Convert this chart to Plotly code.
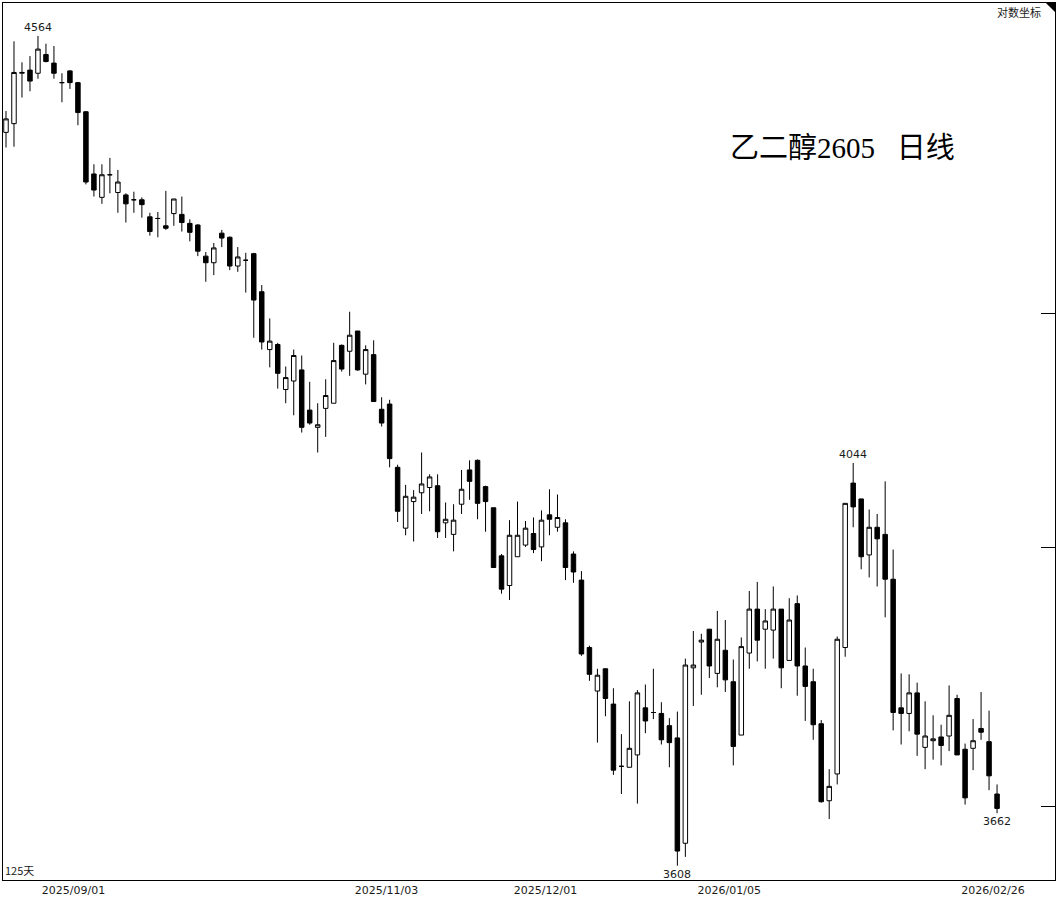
import numpy as np
import plotly.graph_objects as go

# ---- data (乙二醇2605 daily, 125 trading days) ----
OPEN = [4441, 4452, 4516, 4520, 4516, 4540, 4529, 4504, 4519, 4504,
        4467, 4389, 4360, 4388, 4366, 4363, 4357, 4357, 4336, 4334,
        4325, 4340, 4339, 4328, 4326, 4288, 4280, 4316, 4311, 4276,
        4283, 4291, 4245, 4176, 4182, 4129, 4139, 4152, 4105, 4085,
        4107, 4113, 4181, 4174, 4198, 4147, 4170, 4106, 4112, 4039,
        3970, 4000, 4010, 4016, 4018, 3976, 3963, 3997, 4036, 4047,
        4017, 3993, 3939, 3906, 3938, 3951, 3964, 3949, 3985, 3971,
        3976, 3941, 3912, 3838, 3791, 3815, 3777, 3711, 3710, 3723,
        3773, 3768, 3767, 3754, 3741, 3631, 3816, 3844, 3858, 3810,
        3835, 3801, 3744, 3832, 3880, 3858, 3857, 3880, 3824, 3886,
        3818, 3801, 3756, 3675, 3703, 3838, 4021, 4003, 3940, 3971,
        3963, 3913, 3773, 3767, 3789, 3731, 3738, 3742, 3743, 3783,
        3729, 3730, 3751, 3737, 3682]
HIGH = [4468, 4557, 4530, 4538, 4564, 4554, 4551, 4516, 4520, 4505,
        4468, 4401, 4401, 4409, 4394, 4365, 4367, 4360, 4341, 4342,
        4368, 4358, 4361, 4333, 4327, 4293, 4304, 4320, 4312, 4299,
        4292, 4292, 4253, 4213, 4184, 4156, 4176, 4169, 4138, 4113,
        4141, 4184, 4182, 4221, 4198, 4181, 4187, 4120, 4117, 4042,
        4019, 4013, 4056, 4031, 4031, 3999, 3997, 4036, 4047, 4048,
        4018, 3993, 3941, 3979, 4000, 3978, 3982, 3990, 4014, 4008,
        3980, 3944, 3922, 3840, 3815, 3815, 3794, 3745, 3780, 3792,
        3798, 3815, 3779, 3762, 3769, 3826, 3856, 3853, 3858, 3878,
        3868, 3825, 3849, 3900, 3910, 3880, 3905, 3880, 3892, 3895,
        3838, 3815, 3760, 3708, 3850, 3998, 4044, 4003, 3991, 3986,
        4023, 3946, 3810, 3809, 3800, 3780, 3765, 3755, 3797, 3787,
        3735, 3761, 3790, 3770, 3692]
LOW = [4422, 4423, 4485, 4493, 4509, 4530, 4509, 4479, 4496, 4450,
       4376, 4361, 4352, 4365, 4341, 4329, 4341, 4335, 4313, 4311,
       4320, 4325, 4318, 4306, 4288, 4257, 4265, 4299, 4271, 4269,
       4244, 4190, 4176, 4155, 4130, 4113, 4099, 4079, 4088, 4056,
       4074, 4113, 4150, 4145, 4151, 4135, 4115, 4086, 4039, 3977,
       3962, 3955, 3986, 3989, 3959, 3959, 3944, 3986, 4002, 3980,
       3966, 3926, 3897, 3890, 3938, 3949, 3942, 3933, 3962, 3966,
       3912, 3909, 3829, 3802, 3736, 3764, 3702, 3682, 3710, 3672,
       3746, 3761, 3734, 3710, 3608, 3617, 3775, 3787, 3805, 3795,
       3790, 3712, 3744, 3815, 3823, 3815, 3826, 3794, 3824, 3786,
       3759, 3739, 3673, 3656, 3692, 3828, 3971, 3924, 3915, 3905,
       3871, 3749, 3734, 3748, 3722, 3708, 3718, 3712, 3727, 3723,
       3671, 3707, 3739, 3686, 3662]
CLOSE = [4458, 4517, 4517, 4506, 4547, 4531, 4516, 4504, 4504, 4466,
         4379, 4369, 4388, 4388, 4379, 4352, 4357, 4351, 4318, 4334,
         4322, 4358, 4329, 4317, 4294, 4280, 4298, 4310, 4276, 4287,
         4283, 4235, 4185, 4186, 4148, 4143, 4169, 4085, 4090, 4088,
         4122, 4163, 4153, 4193, 4152, 4176, 4115, 4090, 4049, 3989,
         4006, 4005, 4020, 4028, 3966, 3980, 3979, 4014, 4023, 3998,
         4000, 3926, 3902, 3962, 3962, 3970, 3946, 3979, 3980, 3982,
         3926, 3921, 3831, 3809, 3808, 3783, 3707, 3711, 3730, 3789,
         3759, 3768, 3739, 3736, 3623, 3819, 3819, 3846, 3818, 3847,
         3803, 3732, 3839, 3880, 3846, 3867, 3880, 3816, 3868, 3818,
         3796, 3755, 3674, 3690, 3847, 3998, 3994, 3938, 3971, 3958,
         3913, 3768, 3767, 3789, 3745, 3743, 3740, 3733, 3765, 3723,
         3678, 3738, 3747, 3701, 3667]

DATE_LABELS = ["2025/09/01", "2025/11/03", "2025/12/01", "2026/01/05", "2026/02/26"]
DATE_LABEL_POS = [8.45, 47.6, 67.5, 90.5, 123.5]
RIGHT_TICKS = [4219, 3948, 3669]

TITLE = "乙二醇2605\u00a0\u00a0\u00a0日线"
SCALE_NOTE = "对数坐标"
DAYS_NOTE = f"{len(CLOSE)}天"

x = list(range(len(CLOSE)))

fig = go.Figure()
fig.add_trace(go.Candlestick(
    x=x, open=OPEN, high=HIGH, low=LOW, close=CLOSE,
    increasing=dict(line=dict(color="black", width=1), fillcolor="white"),
    decreasing=dict(line=dict(color="black", width=1), fillcolor="black"),
    whiskerwidth=0, hoverinfo="skip", showlegend=False,
))

# extreme labels
hi_arr = np.array(HIGH); lo_arr = np.array(LOW)
i_max = int(hi_arr.argmax())
i_min = int(lo_arr.argmin())
i_max2 = i_min + int(hi_arr[i_min:].argmax())
i_min2 = i_max2 + int(lo_arr[i_max2:].argmin())
lab_font = dict(family="DejaVu Sans", size=11, color="#1a1a1a")
for idx, kind in [(i_max, "hi"), (i_min, "lo"), (i_max2, "hi"), (i_min2, "lo")]:
    if kind == "hi":
        fig.add_annotation(x=idx, y=np.log10(HIGH[idx]), text=str(HIGH[idx]),
                           showarrow=False, yanchor="bottom", xanchor="center",
                           font=lab_font, yshift=0)
    else:
        fig.add_annotation(x=idx, y=np.log10(LOW[idx]), text=str(LOW[idx]),
                           showarrow=False, yanchor="top", xanchor="center",
                           font=lab_font, yshift=0)

fig.add_annotation(xref="paper", yref="paper", x=0.6895, y=0.835, text=TITLE,
                   showarrow=False, xanchor="left", yanchor="middle",
                   font=dict(family="Liberation Serif, Noto Sans CJK SC", size=29, color="black"))
fig.add_annotation(xref="paper", yref="paper", x=0.9886, y=0.9898, text=SCALE_NOTE,
                   showarrow=False, xanchor="right", yanchor="middle",
                   font=dict(family="Noto Sans CJK SC", size=11, color="#1a1a1a"))
fig.add_annotation(xref="paper", yref="paper", x=0.0, y=0.0, text=DAYS_NOTE,
                   showarrow=False, xanchor="left", yanchor="bottom",
                   font=dict(family="Noto Sans CJK SC, DejaVu Sans", size=11, color="#1a1a1a"))

fig.add_shape(type="path", xref="paper", yref="paper",
              path="M 0.9914,1 L 1,1 L 1,0.9898 Z",
              fillcolor="black", line=dict(width=0))

ylo = np.log10(min(LOW)) - 0.00176
yhi = np.log10(max(HIGH)) + 0.00405

fig.update_layout(
    width=1057, height=899,
    margin=dict(l=2, r=2, t=2, b=18),
    paper_bgcolor="white", plot_bgcolor="white",
    boxgap=0.2,
    showlegend=False,
    xaxis=dict(range=[-0.375, 131.25], rangeslider=dict(visible=False),
               showgrid=False, zeroline=False, showline=True, mirror=True,
               linecolor="black", linewidth=1, ticks="",
               tickmode="array", tickvals=DATE_LABEL_POS, ticktext=DATE_LABELS,
               tickfont=dict(family="DejaVu Sans", size=11, color="#1a1a1a")),
    yaxis=dict(type="log", range=[ylo, yhi], side="right",
               showgrid=False, zeroline=False, showline=True, mirror=True,
               linecolor="black", linewidth=1,
               tickmode="array", tickvals=RIGHT_TICKS, ticks="inside",
               ticklen=14, tickcolor="black", tickwidth=1, showticklabels=False),
)

fig.write_html("out.html", config={"displayModeBar": False},
               post_script="document.body.style.margin='0';document.body.style.overflow='hidden';")
